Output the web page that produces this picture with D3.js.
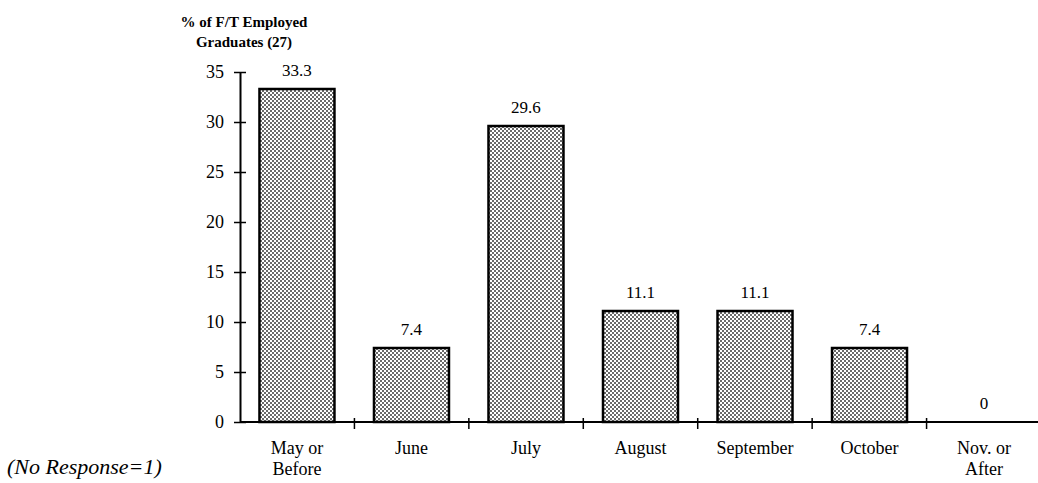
<!DOCTYPE html>
<html>
<head>
<meta charset="utf-8">
<script src="https://cdn.jsdelivr.net/npm/d3@7"></script>
<style>
  body { margin: 0; background: #fff; }
  svg { display: block; font-family: "Liberation Serif", "DejaVu Serif", serif; }
</style>
</head>
<body>
<svg class="chart" width="1038" height="483"></svg>
<script>
const months = ['May or|Before', 'June', 'July', 'August', 'September', 'October', 'Nov. or|After'];
const percents = [33.3, 7.4, 29.6, 11.1, 11.1, 7.4, 0];
const valueLabels = ['33.3', '7.4', '29.6', '11.1', '11.1', '7.4', '0'];
const yTicks = [0, 5, 10, 15, 20, 25, 30, 35];

const startApp = () => {
  const margin = { top: 72, left: 240, bottom: 61, right: -3 };
  const viewBox = { width: 1038, height: 483 };
  const width = viewBox.width - margin.left - margin.right;
  const height = viewBox.height - margin.top - margin.bottom;

  const xScale = d3.scaleBand().domain(months).range([0, width])
    .paddingInner(0.345).paddingOuter(0.17);
  const stepScale = d3.scaleBand().domain(months).range([0, width]);
  const yScale = d3.scaleLinear().domain([0, 35]).range([height, 0]);

  const svg = d3.select('.chart');
  const pattern = svg.append('defs')
    .append('pattern')
    .attr('id', 'dots')
    .attr('width', 4)
    .attr('height', 4)
    .attr('patternUnits', 'userSpaceOnUse');
  pattern.append('rect').attr('width', 4).attr('height', 4).attr('fill', '#fff');
  pattern.append('rect').attr('width', 2).attr('height', 2).attr('fill', '#6a6a6a');
  pattern.append('rect').attr('x', 2).attr('y', 2).attr('width', 2).attr('height', 2).attr('fill', '#6a6a6a');

  const chart = svg.append('g')
    .attr('transform', `translate(${margin.left}, ${margin.top})`);

  chart.selectAll('rect.bar')
    .data(percents)
    .enter()
    .append('rect')
    .classed('bar', true)
    .attr('x', (d, i) => xScale(months[i]))
    .attr('y', d => yScale(d))
    .attr('width', xScale.bandwidth())
    .attr('height', d => height - yScale(d))
    .attr('fill', 'url(#dots)')
    .attr('stroke', d => (d > 0 ? '#000' : 'none'))
    .attr('stroke-width', 2.5);

  chart.selectAll('text.value')
    .data(percents)
    .enter()
    .append('text')
    .classed('value', true)
    .attr('x', (d, i) => xScale(months[i]) + xScale.bandwidth() / 2)
    .attr('y', d => yScale(d) - 13)
    .attr('text-anchor', 'middle')
    .attr('font-size', 17)
    .text((d, i) => valueLabels[i]);

  // y axis with ticks crossing the line
  const yAxis = d3.axisLeft(yScale).tickValues(yTicks).tickSizeInner(-6).tickSizeOuter(0).tickPadding(16);
  const yG = chart.append('g').call(yAxis);
  yG.select('.domain').attr('stroke-width', 2);
  yG.selectAll('.tick line').attr('x1', -6).attr('x2', 6).attr('stroke-width', 1.5);
  yG.selectAll('.tick text')
    .attr('font-size', 18)
    .attr('font-family', '"Liberation Serif", serif')
    .attr('fill', '#000');

  // x axis: category ticks at band boundaries
  const xG = chart.append('g').attr('transform', `translate(0, ${height})`);
  xG.append('line').attr('x1', 0).attr('x2', width).attr('stroke', '#000').attr('stroke-width', 2);
  xG.selectAll('line.tick')
    .data(months.slice(1))
    .enter()
    .append('line')
    .classed('tick', true)
    .attr('x1', d => stepScale(d))
    .attr('x2', d => stepScale(d))
    .attr('y1', -4)
    .attr('y2', 7)
    .attr('stroke', '#000')
    .attr('stroke-width', 1.5);

  const xLabels = xG.selectAll('text.cat')
    .data(months)
    .enter()
    .append('text')
    .classed('cat', true)
    .attr('text-anchor', 'middle')
    .attr('font-size', 18)
    .attr('transform', d => `translate(${xScale(d) + xScale.bandwidth() / 2}, 32)`);
  xLabels.selectAll('tspan')
    .data(d => d.split('|'))
    .enter()
    .append('tspan')
    .attr('x', 0)
    .attr('dy', (d, i) => (i === 0 ? 0 : 21))
    .text(d => d);

  // y axis title
  const title = svg.append('text')
    .attr('text-anchor', 'middle')
    .attr('font-size', 15)
    .attr('font-weight', 'bold')
    .attr('transform', 'translate(244, 27)');
  title.append('tspan').attr('x', 0).text('% of F/T Employed');
  title.append('tspan').attr('x', 0).attr('dy', 20).text('Graduates (27)');

  svg.append('text')
    .attr('x', 7)
    .attr('y', 474)
    .attr('font-family', '"Liberation Serif", serif')
    .attr('font-size', 22)
    .attr('font-style', 'italic')
    .text('(No Response=1)');
};

window.onload = startApp;
</script>
</body>
</html>
